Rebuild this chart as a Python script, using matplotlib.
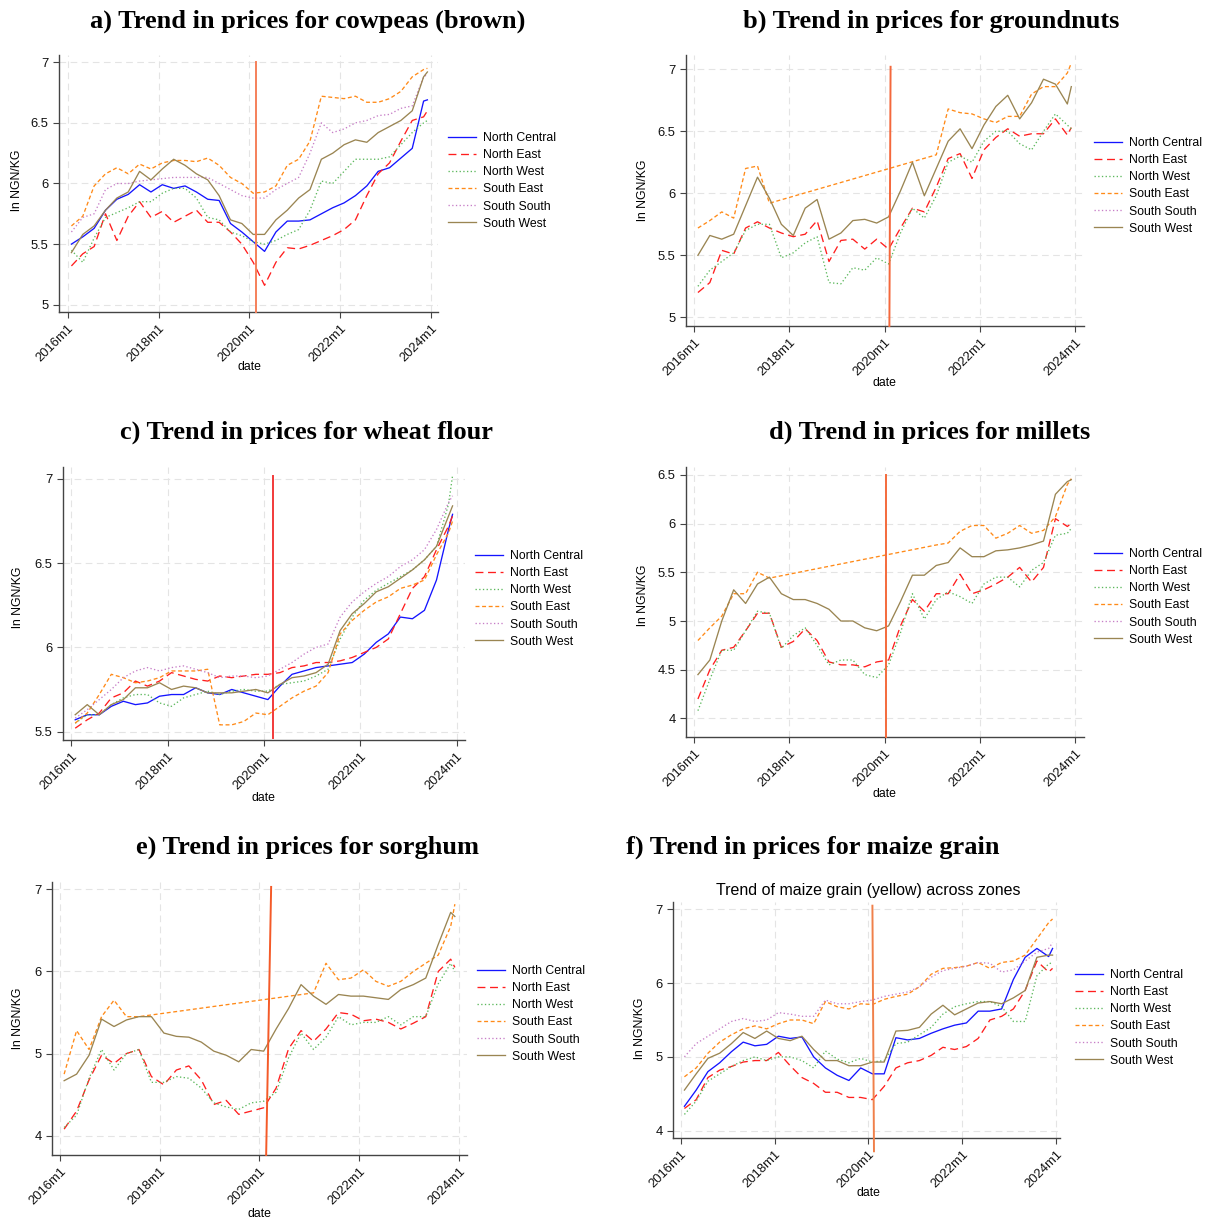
import numpy as np
import matplotlib
matplotlib.use("Agg")
import matplotlib.pyplot as plt

# month index (0 = 2016m1) of each reading
months = list(range(1, 95, 3)) + [95]
nan = np.nan
GAP = [nan] * 13

zones = ["North Central", "North East", "North West", "South East", "South South", "South West"]

# a) cowpeas (brown)
cow_nc = [5.50, 5.56, 5.63, 5.78, 5.87, 5.91, 5.99, 5.93, 5.99, 5.96, 5.98, 5.93, 5.87, 5.86, 5.67, 5.60, 5.52,
          5.44, 5.60, 5.69, 5.69, 5.70, 5.75, 5.80, 5.84, 5.90, 5.98, 6.10, 6.13, 6.21, 6.29, 6.68, 6.69]
cow_ne = [5.32, 5.42, 5.48, 5.75, 5.53, 5.73, 5.85, 5.72, 5.77, 5.68, 5.73, 5.78, 5.68, 5.68, 5.60, 5.50, 5.35,
          5.16, 5.35, 5.47, 5.46, 5.49, 5.53, 5.57, 5.62, 5.70, 5.90, 6.08, 6.17, 6.35, 6.52, 6.55, 6.60]
cow_nw = [5.45, 5.35, 5.55, 5.72, 5.76, 5.80, 5.85, 5.85, 5.92, 5.96, 5.96, 5.88, 5.72, 5.70, 5.60, 5.57, 5.52,
          5.50, 5.53, 5.58, 5.62, 5.78, 6.02, 6.00, 6.10, 6.20, 6.20, 6.20, 6.22, 6.32, 6.42, 6.50, 6.52]
cow_se = [5.65, 5.73, 5.98, 6.08, 6.13, 6.08, 6.16, 6.12, 6.17, 6.19, 6.19, 6.18, 6.21, 6.15, 6.05, 6.00, 5.92,
          5.93, 5.98, 6.15, 6.20, 6.35, 6.72, 6.71, 6.70, 6.72, 6.67, 6.67, 6.70, 6.76, 6.88, 6.94, 6.95]
cow_ss = [5.60, 5.72, 5.75, 5.95, 6.00, 6.00, 6.02, 6.03, 6.04, 6.05, 6.05, 6.05, 6.05, 6.00, 5.95, 5.90, 5.88,
          5.88, 5.95, 6.00, 6.05, 6.25, 6.50, 6.42, 6.45, 6.50, 6.52, 6.56, 6.57, 6.62, 6.64, 6.88, 6.90]
cow_sw = [5.43, 5.58, 5.65, 5.78, 5.88, 5.93, 6.10, 6.03, 6.12, 6.20, 6.15, 6.08, 6.03, 5.90, 5.70, 5.67, 5.58,
          5.58, 5.70, 5.78, 5.88, 5.95, 6.20, 6.25, 6.32, 6.36, 6.34, 6.42, 6.47, 6.52, 6.60, 6.88, 6.92]

# b) groundnuts
gnut_ne = [5.20, 5.28, 5.54, 5.51, 5.72, 5.77, 5.72, 5.68, 5.65, 5.67, 5.78, 5.45, 5.62, 5.63, 5.55, 5.63, 5.55,
           5.72, 5.88, 5.85, 6.05, 6.28, 6.32, 6.12, 6.35, 6.45, 6.52, 6.46, 6.48, 6.48, 6.60, 6.47, 6.53]
gnut_nw = [5.25, 5.38, 5.45, 5.52, 5.70, 5.75, 5.75, 5.48, 5.52, 5.60, 5.65, 5.28, 5.27, 5.40, 5.38, 5.48, 5.43,
           5.68, 5.88, 5.80, 5.98, 6.25, 6.30, 6.25, 6.42, 6.50, 6.50, 6.40, 6.35, 6.50, 6.64, 6.55, 6.52]
gnut_se = [5.72, 5.78, 5.85, 5.80, 6.20, 6.22, 5.92] + GAP + \
          [6.31, 6.68, 6.65, 6.64, 6.60, 6.57, 6.62, 6.62, 6.80, 6.86, 6.86, 6.97, 7.05]
gnut_sw = [5.50, 5.66, 5.63, 5.67, 5.90, 6.13, 5.96, 5.75, 5.66, 5.88, 5.95, 5.63, 5.68, 5.78, 5.79, 5.76, 5.81,
           6.02, 6.25, 5.98, 6.20, 6.42, 6.52, 6.36, 6.55, 6.70, 6.79, 6.60, 6.73, 6.92, 6.88, 6.72, 6.86]

# c) wheat flour
flour_nc = [5.57, 5.60, 5.60, 5.65, 5.68, 5.66, 5.67, 5.71, 5.72, 5.72, 5.76, 5.73, 5.72, 5.75, 5.73, 5.71, 5.69,
            5.77, 5.84, 5.86, 5.88, 5.89, 5.90, 5.91, 5.96, 6.03, 6.08, 6.18, 6.17, 6.22, 6.40, 6.70, 6.79]
flour_ne = [5.52, 5.57, 5.61, 5.70, 5.73, 5.80, 5.77, 5.80, 5.85, 5.83, 5.81, 5.80, 5.83, 5.82, 5.83, 5.84, 5.84,
            5.85, 5.88, 5.89, 5.91, 5.91, 5.92, 5.94, 5.97, 6.00, 6.05, 6.20, 6.35, 6.42, 6.58, 6.72, 6.78]
flour_nw = [5.55, 5.60, 5.60, 5.66, 5.70, 5.72, 5.72, 5.67, 5.65, 5.70, 5.72, 5.74, 5.72, 5.74, 5.75, 5.74, 5.74,
            5.78, 5.79, 5.80, 5.83, 5.87, 6.05, 6.18, 6.28, 6.34, 6.38, 6.42, 6.46, 6.52, 6.60, 6.85, 7.02]
flour_se = [5.55, 5.61, 5.72, 5.84, 5.82, 5.79, 5.80, 5.82, 5.86, 5.86, 5.86, 5.87, 5.54, 5.54, 5.56, 5.61, 5.60,
            5.65, 5.70, 5.74, 5.77, 5.85, 6.08, 6.16, 6.22, 6.27, 6.30, 6.35, 6.37, 6.40, 6.55, 6.68, 6.75]
flour_ss = [5.58, 5.63, 5.69, 5.75, 5.82, 5.86, 5.88, 5.86, 5.88, 5.89, 5.87, 5.85, 5.82, 5.83, 5.83, 5.82, 5.83,
            5.87, 5.91, 5.96, 6.00, 6.02, 6.18, 6.27, 6.33, 6.38, 6.42, 6.48, 6.52, 6.58, 6.70, 6.86, 6.90]
flour_sw = [5.60, 5.66, 5.60, 5.66, 5.69, 5.76, 5.76, 5.79, 5.75, 5.77, 5.76, 5.73, 5.73, 5.73, 5.74, 5.75, 5.73,
            5.78, 5.82, 5.83, 5.85, 5.90, 6.10, 6.20, 6.26, 6.33, 6.36, 6.41, 6.46, 6.52, 6.60, 6.78, 6.84]

# d) millets
mil_ne = [4.20, 4.50, 4.70, 4.73, 4.90, 5.08, 5.08, 4.73, 4.79, 4.92, 4.80, 4.58, 4.55, 4.55, 4.53, 4.58, 4.60,
          4.95, 5.22, 5.10, 5.28, 5.28, 5.48, 5.28, 5.32, 5.38, 5.45, 5.55, 5.40, 5.55, 6.05, 5.97, 6.00]
mil_nw = [4.08, 4.40, 4.70, 4.70, 4.90, 5.10, 5.08, 4.72, 4.85, 4.93, 4.75, 4.55, 4.60, 4.60, 4.45, 4.42, 4.55,
          4.88, 5.28, 5.02, 5.22, 5.30, 5.25, 5.18, 5.38, 5.45, 5.45, 5.35, 5.52, 5.60, 5.88, 5.90, 5.95]
mil_se = [4.80, 4.93, 5.05, 5.28, 5.28, 5.50, 5.44] + GAP + \
         [5.78, 5.80, 5.92, 5.98, 5.98, 5.85, 5.90, 5.98, 5.90, 5.93, 6.07, 6.40, 6.46]
mil_sw = [4.45, 4.60, 5.00, 5.32, 5.18, 5.38, 5.45, 5.28, 5.22, 5.22, 5.18, 5.12, 5.00, 5.00, 4.93, 4.90, 4.95,
          5.20, 5.47, 5.47, 5.57, 5.60, 5.75, 5.66, 5.66, 5.72, 5.73, 5.75, 5.78, 5.82, 6.30, 6.43, 6.45]

# e) sorghum
sor_ne = [4.08, 4.30, 4.68, 4.98, 4.88, 5.00, 5.05, 4.72, 4.62, 4.80, 4.85, 4.68, 4.38, 4.43, 4.26, 4.30, 4.34,
          4.58, 5.06, 5.28, 5.15, 5.30, 5.50, 5.48, 5.40, 5.42, 5.38, 5.30, 5.37, 5.45, 6.00, 6.15, 6.05]
sor_nw = [4.10, 4.25, 4.70, 5.05, 4.80, 5.00, 5.05, 4.65, 4.65, 4.72, 4.70, 4.58, 4.40, 4.35, 4.32, 4.40, 4.42,
          4.53, 4.95, 5.25, 5.05, 5.20, 5.45, 5.35, 5.38, 5.38, 5.45, 5.35, 5.45, 5.45, 5.85, 6.10, 6.00]
sor_se = [4.75, 5.28, 5.05, 5.45, 5.65, 5.45, 5.45] + GAP + \
         [5.74, 6.10, 5.90, 5.92, 6.02, 5.88, 5.82, 5.88, 6.00, 6.10, 6.20, 6.55, 6.82]
sor_sw = [4.67, 4.75, 4.98, 5.42, 5.33, 5.41, 5.45, 5.45, 5.25, 5.21, 5.20, 5.14, 5.03, 4.98, 4.90, 5.05, 5.03,
          5.30, 5.55, 5.84, 5.70, 5.60, 5.72, 5.70, 5.70, 5.68, 5.66, 5.78, 5.84, 5.92, 6.33, 6.72, 6.67]

# f) maize grain
maize_nc = [4.33, 4.55, 4.80, 4.92, 5.07, 5.20, 5.15, 5.17, 5.28, 5.25, 5.27, 5.00, 4.85, 4.75, 4.68, 4.85, 4.77,
            4.77, 5.26, 5.23, 5.25, 5.32, 5.38, 5.43, 5.46, 5.62, 5.62, 5.65, 6.05, 6.35, 6.47, 6.36, 6.47]
maize_ne = [4.30, 4.42, 4.72, 4.82, 4.87, 4.93, 4.95, 4.95, 5.06, 4.88, 4.72, 4.64, 4.52, 4.52, 4.45, 4.45, 4.42,
            4.60, 4.85, 4.92, 4.95, 5.02, 5.13, 5.10, 5.14, 5.25, 5.50, 5.55, 5.65, 5.90, 6.30, 6.15, 6.20]
maize_nw = [4.22, 4.40, 4.67, 4.77, 4.87, 4.95, 5.00, 4.95, 5.00, 5.00, 4.95, 4.85, 5.08, 4.97, 4.92, 4.98, 4.93,
            4.95, 5.18, 5.20, 5.30, 5.40, 5.58, 5.68, 5.72, 5.75, 5.75, 5.68, 5.48, 5.48, 6.10, 6.26, 6.28]
maize_se = [4.73, 4.85, 5.05, 5.20, 5.30, 5.38, 5.42, 5.38, 5.45, 5.50, 5.50, 5.45, 5.75, 5.68, 5.65, 5.72, 5.71,
            5.78, 5.82, 5.85, 5.95, 6.12, 6.20, 6.21, 6.23, 6.28, 6.20, 6.28, 6.30, 6.38, 6.60, 6.82, 6.87]
maize_ss = [5.00, 5.18, 5.28, 5.38, 5.48, 5.52, 5.48, 5.50, 5.60, 5.58, 5.55, 5.55, 5.77, 5.72, 5.72, 5.75, 5.77,
            5.82, 5.85, 5.88, 5.95, 6.08, 6.17, 6.20, 6.23, 6.28, 6.27, 6.15, 6.18, 6.30, 6.42, 6.47, 6.55]
maize_sw = [4.55, 4.77, 4.98, 5.05, 5.18, 5.33, 5.25, 5.35, 5.25, 5.22, 5.28, 5.10, 4.95, 4.95, 4.88, 4.88, 4.93,
            4.93, 5.35, 5.36, 5.40, 5.58, 5.70, 5.57, 5.65, 5.73, 5.75, 5.72, 5.80, 5.90, 6.35, 6.38, 6.38]

# month where the marker line (bottom, top) was drawn
vline_a = (49.8, 49.8)
vline_b = (49.2, 49.5)
vline_c = (50.2, 50.2)
vline_d = (48.3, 48.3)
vline_e = (49.6, 50.8)
vline_f = (49.4, 49.0)

STYLE = {
    "North Central": dict(color="#1414ff", ls="-"),
    "North East": dict(color="#ff1e1e", ls=(0, (6, 3.5))),
    "North West": dict(color="#5cb85c", ls=(0, (1, 1.8))),
    "South East": dict(color="#ff8a18", ls=(0, (3, 2))),
    "South South": dict(color="#c77ec7", ls=(0, (1, 1.8))),
    "South West": dict(color="#9a8552", ls="-"),
}

W, H = 1212, 1222
fig = plt.figure(figsize=(W / 100, H / 100), dpi=100)
plt.rcParams['font.family'] = ['Liberation Sans', 'DejaVu Sans']

x = 2016 + np.array(months) / 12.0


def px_axes(left, right, top, bottom):
    return fig.add_axes([left / W, 1 - bottom / H, (right - left) / W, (bottom - top) / H])


def panel(box, title, tpos, series, yl, yt, vline, vcol, vtop, vbot, xl, lab, leg, sub=None):
    ax = px_axes(*box)
    for z, vals in zip(zones, series):
        st = STYLE[z]
        if vals is None:
            ax.plot([], [], color=st["color"], ls=st["ls"], lw=0.95, label=z)
            continue
        v = np.array(vals, dtype=float)
        ok = ~np.isnan(v)
        ax.plot(x[ok], v[ok], color=st["color"], ls=st["ls"], lw=0.95, label=z)
    xb, xt = 2016 + vline[0] / 12, 2016 + vline[1] / 12
    ax.plot([xb, xt], [vbot, vtop], color=vcol, lw=1.4, clip_on=False, zorder=5)
    ax.set_xlim(*xl)
    ax.set_ylim(*yl)
    ax.set_yticks(yt)
    ax.set_yticklabels(["%g" % t for t in yt])
    ax.set_xticks([2016, 2018, 2020, 2022, 2024])
    ax.set_xticklabels(["2016m1", "2018m1", "2020m1", "2022m1", "2024m1"],
                       rotation=45, ha="right", va="top", rotation_mode="anchor")
    ax.grid(True, color="#e4e4e4", ls=(0, (6, 4)), lw=0.8)
    ax.set_axisbelow(True)
    for s in ["top", "right"]:
        ax.spines[s].set_visible(False)
    for s in ["left", "bottom"]:
        ax.spines[s].set_color("#444444")
        ax.spines[s].set_linewidth(1.0)
    ax.tick_params(direction="out", length=4, width=0.8, color="#444444", labelsize=9.4,
                   labelcolor="#111111")
    fig.text(tpos[0] / W, 1 - tpos[1] / H, title, ha="center", va="center",
             family="Liberation Serif", weight="bold", fontsize=19)
    fig.text(lab[0] / W, 1 - lab[1] / H, "ln NGN/KG", rotation=90, ha="center", va="center",
             fontsize=8.8)
    fig.text(lab[2] / W, 1 - lab[3] / H, "date", ha="center", va="center", fontsize=8.8)
    if sub:
        fig.text(sub[1] / W, 1 - sub[2] / H, sub[0], ha="center", va="center", fontsize=11.5)
    ax.legend(loc="upper left", bbox_to_anchor=(leg[0] / W, 1 - leg[1] / H),
              bbox_transform=fig.transFigure, frameon=False, fontsize=8.8, borderpad=0,
              borderaxespad=0, handlelength=2.3, handletextpad=0.55, labelspacing=0.42)
    return ax


panel((59, 438, 55, 312), "a) Trend in prices for cowpeas (brown)", (308, 21),
      [cow_nc, cow_ne, cow_nw, cow_se, cow_ss, cow_sw],
      (4.94, 7.06), [5, 5.5, 6, 6.5, 7], vline_a, "#f5805a", 7.0, 4.94,
      (2015.81, 2024.15), (17, 180, 249, 367), (448, 132))

panel((686, 1084, 55, 326), "b) Trend in prices for groundnuts", (931, 21),
      [None, gnut_ne, gnut_nw, gnut_se, None, gnut_sw],
      (4.93, 7.115), [5, 5.5, 6, 6.5, 7], vline_b, "#f4683c", 7.02, 4.93,
      (2015.833, 2024.183), (643, 190, 884, 383), (1094, 137))

panel((63, 465, 467, 740), "c) Trend in prices for wheat flour", (307, 432),
      [flour_nc, flour_ne, flour_nw, flour_se, flour_ss, flour_sw],
      (5.45, 7.071), [5.5, 6, 6.5, 7], vline_c, "#f23a3a", 7.02, 5.46,
      (2015.83, 2024.175), (18, 597, 263, 798), (475, 550))

panel((686, 1084, 467, 737), "d) Trend in prices for millets", (930, 432),
      [None, mil_ne, mil_nw, mil_se, None, mil_sw],
      (3.81, 6.58), [4, 4.5, 5, 5.5, 6, 6.5], vline_d, "#f46a3c", 6.5, 3.81,
      (2015.833, 2024.183), (643, 595, 884, 794), (1094, 548))

panel((52, 467, 882, 1155), "e) Trend in prices for sorghum", (307, 847),
      [None, sor_ne, sor_nw, sor_se, None, sor_sw],
      (3.765, 7.09), [4, 5, 6, 7], vline_e, "#f45a28", 7.03, 3.765,
      (2015.84, 2024.16), (18, 1018, 259, 1214), (477, 965))

panel((673, 1060, 902, 1138), "f) Trend in prices for maize grain", (813, 847),
      [maize_nc, maize_ne, maize_nw, maize_se, maize_ss, maize_sw],
      (3.90, 7.10), [4, 5, 6, 7], vline_f, "#f0804a", 7.05, 3.72,
      (2015.84, 2024.075), (640, 1028, 868, 1193), (1075, 969),
      sub=("Trend of maize grain (yellow) across zones", 868, 891))

fig.savefig("out.png", dpi=100)
